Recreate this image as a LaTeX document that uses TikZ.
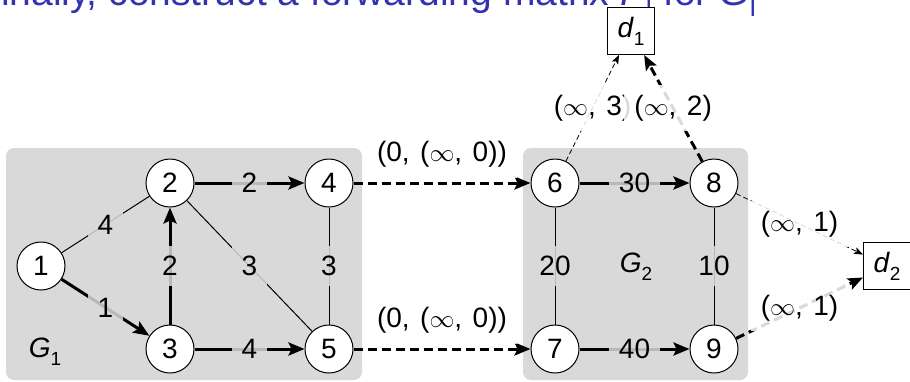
\documentclass[tikz,border=0pt]{standalone}
\usepackage{fontspec}
\setmainfont{Liberation Sans}
\usetikzlibrary{arrows.meta}

\definecolor{panel}{gray}{0.85}
\definecolor{titleblue}{rgb}{0.2,0.2,0.7}

% italic letter with an upright subscript digit
\newcommand{\idx}[2]{\textit{#1}\raisebox{-0.28em}{\fontsize{19}{20}\selectfont #2}}
% a slightly enlarged infinity sign and the space after commas in labels
\newcommand{\infsym}{{\fontsize{31}{30}\selectfont$\infty$}}
\newcommand{\gap}{\hspace{10.5pt}}

\begin{document}
\begin{tikzpicture}[x=1pt,y=-1pt,
  font=\fontsize{28}{32}\selectfont,
  vertex/.style={circle,draw,line width=1pt,fill=white,minimum size=48pt,inner sep=0pt},
  dest/.style={rectangle,draw,line width=1pt,fill=white,minimum size=47pt,inner sep=0pt},
  link/.style={line width=1pt},
  tree/.style={line width=3pt,-{Stealth[length=16pt,width=13pt,inset=3pt]}},
  treedash/.style={tree,dash pattern=on 9pt off 5pt},
  hint/.style={line width=0.8pt,dash pattern=on 5pt off 3pt,-{Stealth[length=9pt,width=7pt,inset=2pt]}},
  wpanel/.style={fill=panel,fill opacity=0.85,text opacity=1,inner sep=10pt},
  wplain/.style={fill=white,fill opacity=0.85,text opacity=1,inner sep=10pt},
]
\useasboundingbox (0,0) rectangle (910,381);
\clip (0,0) rectangle (910,381);

% heading, only its lower part lies inside the page
\node[anchor=base west,inner sep=0pt,text=titleblue,font=\fontsize{39}{44}\selectfont]
  (title) at (-23,5.5) {Finally, construct a forwarding matrix \textit{F}\textsubscript{l} for \textit{G}\textsubscript{l}};

% the two domains
\fill[panel,rounded corners=8pt] (6,148) rectangle (362,380);
\fill[panel,rounded corners=8pt] (523,148) rectangle (748,380);
\node (g1) at (45,352) {\idx{G}{1}};
\node (g2) at (636,267) {\idx{G}{2}};

% routers
\node[vertex] (n1) at (41,266) {1};
\node[vertex] (n2) at (170,183) {2};
\node[vertex] (n3) at (170,349) {3};
\node[vertex] (n4) at (329,183) {4};
\node[vertex] (n5) at (329,349) {5};
\node[vertex] (n6) at (555,183) {6};
\node[vertex] (n7) at (555,349) {7};
\node[vertex] (n8) at (714,183) {8};
\node[vertex] (n9) at (714,349) {9};

% destinations
\node[dest] (d1) at (631,31) {\idx{d}{1}};
\node[dest] (d2) at (887,266) {\idx{d}{2}};

% links inside G1
\draw[link] (n1) -- node[wpanel] {4} (n2);
\draw[tree] (n1) -- node[wpanel] {1} (n3);
\draw[tree] (n3) -- node[wpanel] {2} (n2);
\draw[tree] (n2) -- node[wpanel] {2} (n4);
\draw[tree] (n3) -- node[wpanel] {4} (n5);
\draw[link] (n2) -- node[wpanel] {3} (n5);
\draw[link] (n4) -- node[wpanel] {3} (n5);

% links inside G2
\draw[tree] (n6) -- node[wpanel] {30} (n8);
\draw[tree] (n7) -- node[wpanel] {40} (n9);
\draw[link] (n6) -- node[wpanel] {20} (n7);
\draw[link] (n8) -- node[wpanel] {10} (n9);

% inter-domain links
\draw[treedash] (n4) -- node[wplain,above=4pt] {(0,\gap(\infsym,\gap0))} (n6);
\draw[treedash] (n5) -- node[wplain,above=4pt] {(0,\gap(\infsym,\gap0))} (n7);

% routes towards the destinations
\draw[hint] (n6) -- node[wplain] {(\infsym,\gap3)} (d1);
\draw[treedash,-{Stealth[length=15pt,width=12pt,inset=3pt]}] (n8) -- node[wplain] {(\infsym,\gap2)} (d1);
\draw[hint] (n8) -- node[wplain] {(\infsym,\gap1)} (d2);
\draw[treedash,-{Stealth[length=15pt,width=12pt,inset=3pt]}] (n9) -- node[wplain] {(\infsym,\gap1)} (d2);
\end{tikzpicture}
\end{document}
